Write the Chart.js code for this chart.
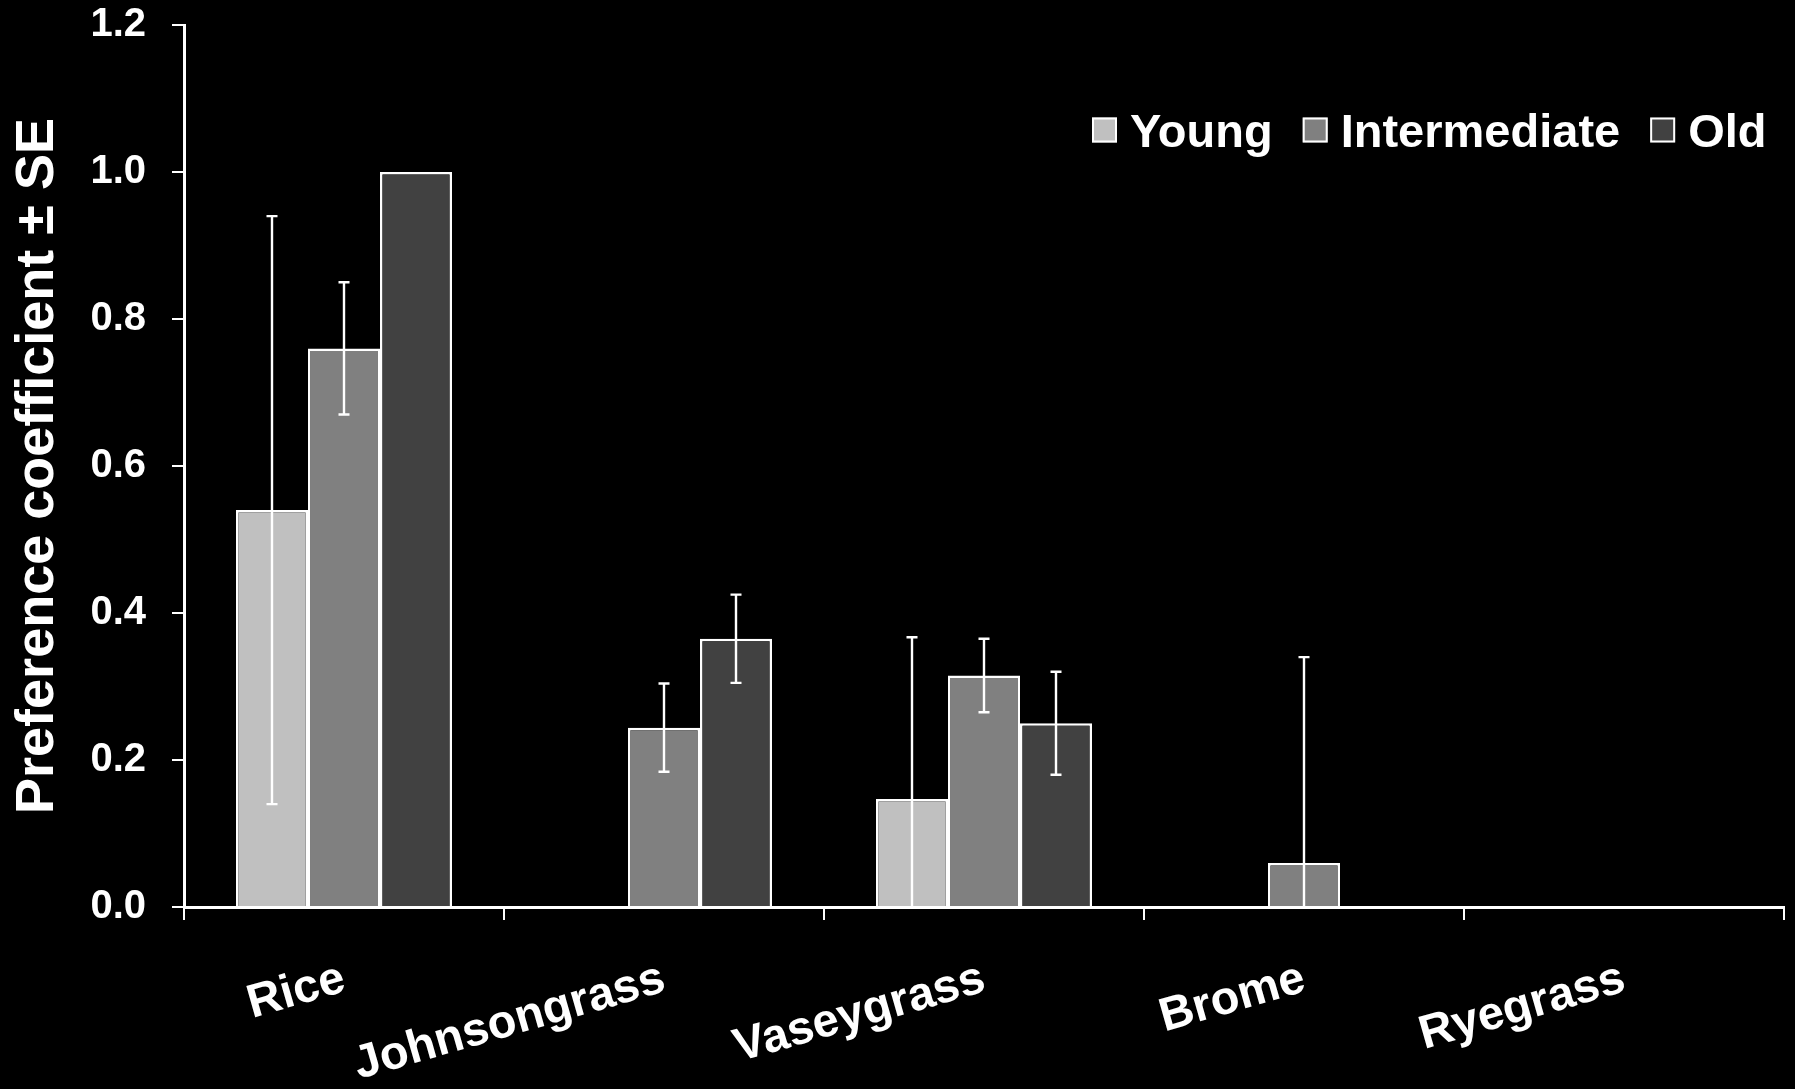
<!DOCTYPE html>
<html>
<head>
<meta charset="utf-8">
<script src="https://cdn.jsdelivr.net/npm/chart.js@4.4.1/dist/chart.umd.min.js"></script>
<style>
  html, body { margin: 0; padding: 0; background: #000; }
  canvas { display: block; }
</style>
</head>
<body>
<canvas id="chart" width="1795" height="1089"></canvas>
<script>
// Grass species offered
const categories = ['Rice', 'Johnsongrass', 'Vaseygrass', 'Brome', 'Ryegrass'];

// Preference coefficients and standard errors per age class
const youngMeans        = [0.54, 0,     0.147, 0,    0];
const youngSE           = [0.40, 0,     0.22,  0,    0];
const intermediateMeans = [0.76, 0.244, 0.315, 0.06, 0];
const intermediateSE    = [0.09, 0.06,  0.05,  0.28, 0];
const oldMeans          = [1.00, 0.365, 0.25,  0,    0];
const oldSE             = [0,    0.06,  0.07,  0,    0];

const seriesNames  = ['Young', 'Intermediate', 'Old'];
const seriesColors = ['#c0c0c0', '#808080', '#414141'];
const yTickLabels  = ['0.0', '0.2', '0.4', '0.6', '0.8', '1.0', '1.2'];

const FONT = "'Liberation Sans', Arial, sans-serif";

// Vertical SE whiskers with caps, drawn on the bar centres
const errorBars = {
  id: 'errorBars',
  afterDatasetsDraw(chart) {
    const ctx = chart.ctx;
    const yScale = chart.scales.y;
    const cap = 5.5;
    ctx.save();
    ctx.strokeStyle = '#ffffff';
    ctx.lineWidth = 2.4;
    chart.data.datasets.forEach((ds, di) => {
      const meta = chart.getDatasetMeta(di);
      meta.data.forEach((bar, i) => {
        const se = ds.se[i];
        if (!se) return;
        const m = ds.data[i];
        const x = bar.x;
        const yHi = yScale.getPixelForValue(m + se);
        const lowVal = Math.max(0, m - se);
        const yLo = yScale.getPixelForValue(lowVal);
        ctx.beginPath();
        ctx.moveTo(x, yHi);
        ctx.lineTo(x, yLo);
        ctx.moveTo(x - cap, yHi);
        ctx.lineTo(x + cap, yHi);
        if (m - se > 0) {
          ctx.moveTo(x - cap, yLo);
          ctx.lineTo(x + cap, yLo);
        }
        ctx.stroke();
      });
    });
    ctx.restore();
  }
};

// Legend set inside the plot, top right
const insideLegend = {
  id: 'insideLegend',
  afterDraw(chart) {
    const ctx = chart.ctx;
    const area = chart.chartArea;
    const box = 25, boxGap = 13, itemGap = 30;
    let x = area.right - 692;
    const baseline = 147;
    ctx.save();
    ctx.font = 'bold 47px ' + FONT;
    ctx.textBaseline = 'alphabetic';
    ctx.textAlign = 'left';
    chart.data.datasets.forEach((ds) => {
      ctx.fillStyle = ds.backgroundColor;
      ctx.fillRect(x, 117.5, box, box);
      ctx.strokeStyle = '#ffffff';
      ctx.lineWidth = 2;
      ctx.strokeRect(x + 1, 118.5, box - 2, box - 2);
      ctx.fillStyle = '#ffffff';
      const tx = x + box + boxGap;
      ctx.fillText(ds.label, tx, baseline);
      x = tx + ctx.measureText(ds.label).width + itemGap;
    });
    ctx.restore();
  }
};

const makeSet = (i, data, se) => ({
  label: seriesNames[i],
  data: data,
  se: se,
  backgroundColor: seriesColors[i],
  borderColor: '#ffffff',
  borderWidth: 2.5,
  categoryPercentage: 0.675,
  barPercentage: 1.0
});

new Chart(document.getElementById('chart'), {
  type: 'bar',
  data: {
    labels: categories,
    datasets: [
      makeSet(0, youngMeans, youngSE),
      makeSet(1, intermediateMeans, intermediateSE),
      makeSet(2, oldMeans, oldSE)
    ]
  },
  options: {
    responsive: false,
    animation: false,
    events: [],
    layout: { padding: { top: 25, right: 11, bottom: 0, left: 0 } },
    plugins: {
      legend: { display: false },
      tooltip: { enabled: false }
    },
    scales: {
      x: {
        grid: {
          display: true,
          offset: true,
          drawOnChartArea: false,
          drawTicks: true,
          tickLength: 13,
          color: '#ffffff',
          lineWidth: 2
        },
        border: { display: true, color: '#ffffff', width: 3 },
        ticks: {
          color: '#ffffff',
          font: { family: FONT, size: 47, weight: 'bold' },
          minRotation: 16,
          maxRotation: 16,
          autoSkip: false,
          padding: 31
        },
        afterFit(scale) {
          scale.height = 182;
          scale.paddingLeft = 0;
          scale.paddingRight = 0;
        }
      },
      y: {
        min: 0,
        max: 1.2,
        grid: {
          display: true,
          drawOnChartArea: false,
          drawTicks: true,
          tickLength: 12,
          color: '#ffffff',
          lineWidth: 2
        },
        border: { display: true, color: '#ffffff', width: 3 },
        ticks: {
          stepSize: 0.2,
          color: '#ffffff',
          font: { family: FONT, size: 40, weight: 'bold' },
          padding: 26,
          callback: (v, i) => yTickLabels[i]
        },
        title: {
          display: true,
          text: 'Preference coefficient ± SE',
          color: '#ffffff',
          font: { family: FONT, size: 54, weight: 'bold' },
          padding: { top: 6, bottom: 0 }
        },
        afterFit(scale) {
          scale.width = 184;
          scale.paddingTop = 0;
          scale.paddingBottom = 0;
        }
      }
    }
  },
  plugins: [errorBars, insideLegend]
});
</script>
</body>
</html>
